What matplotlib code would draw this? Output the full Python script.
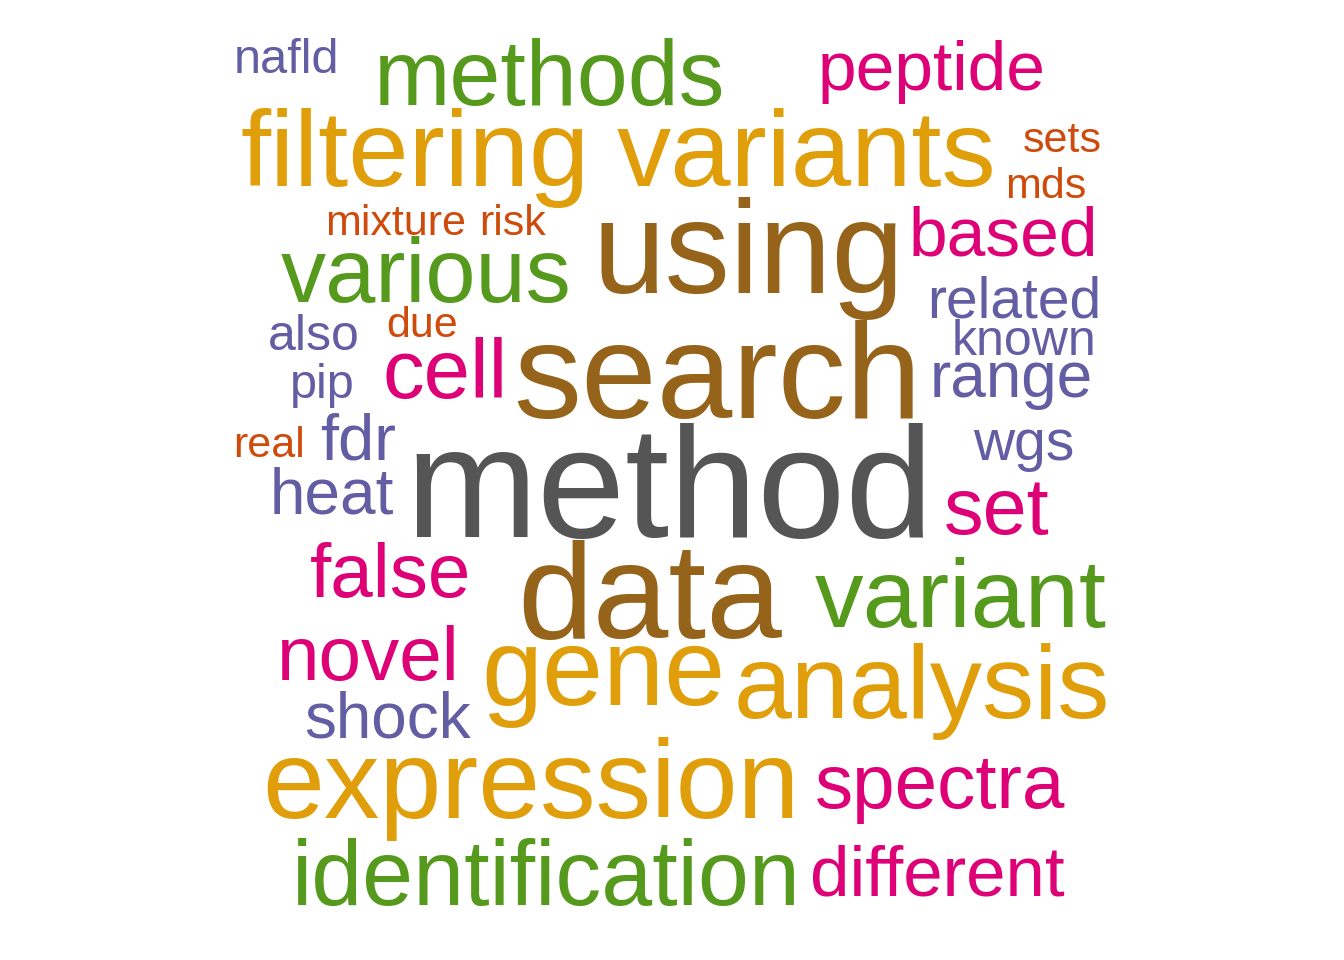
import matplotlib
matplotlib.use('Agg')
import matplotlib.pyplot as plt

plt.rcParams['font.family'] = ['Liberation Sans', 'DejaVu Sans']

# words, their size (pt) and colour group
words = ['method', 'search', 'data', 'using', 'filtering', 'variants', 'gene',
         'analysis', 'expression', 'methods', 'various', 'variant',
         'identification', 'peptide', 'based', 'cell', 'set', 'false', 'novel',
         'spectra', 'different', 'nafld', 'related', 'known', 'range', 'wgs',
         'also', 'pip', 'fdr', 'heat', 'shock', 'sets', 'mds', 'mixture',
         'risk', 'due', 'real']
sizes = [114, 98, 98, 94, 78, 78, 79, 75, 80, 66, 65, 70, 66, 50, 50, 60, 57,
         55, 55, 55, 51, 35, 41, 36, 46, 41, 36, 35, 47, 46, 46, 31, 31, 31,
         31, 31, 31]
groups = ['grey', 'brown', 'brown', 'brown', 'gold', 'gold', 'gold', 'gold',
          'gold', 'green', 'green', 'green', 'green', 'pink', 'pink', 'pink',
          'pink', 'pink', 'pink', 'pink', 'pink', 'purple', 'purple', 'purple',
          'purple', 'purple', 'purple', 'purple', 'purple', 'purple', 'purple',
          'orange', 'orange', 'orange', 'orange', 'orange', 'orange']

# layout of the cloud (word centre x, baseline y) in pixels
pos_x = [670, 717, 650, 748, 415, 806, 603, 922, 531, 550, 426, 961, 546, 932,
         1003, 445, 997, 391, 368, 940, 937, 287, 1014, 1024, 1011, 1024, 314,
         322, 358, 332, 388, 1062, 1046, 396, 513, 422, 269]
pos_y = [537, 418, 638, 293, 186, 186, 705, 718, 818, 105, 302, 627, 905, 90,
         255, 398, 534, 597, 680, 808, 895, 73, 318, 355, 397, 460, 350, 398,
         460, 513, 737, 152, 198, 235, 235, 337, 457]

palette = {'grey': '#555555', 'brown': '#95631A', 'gold': '#E09F0A',
           'green': '#559A1C', 'pink': '#DD0077', 'purple': '#635DA4',
           'orange': '#CE4B0C'}

fig = plt.figure(figsize=(13.44, 9.6), dpi=100)
ax = fig.add_axes([0, 0, 1, 1])
ax.set_xlim(0, 1344)
ax.set_ylim(960, 0)
ax.axis('off')

for w, s, g, x, y in zip(words, sizes, groups, pos_x, pos_y):
    ax.text(x, y, w, fontsize=s, color=palette[g], ha='center', va='baseline')

fig.savefig('out.png', dpi=100, facecolor='white')
